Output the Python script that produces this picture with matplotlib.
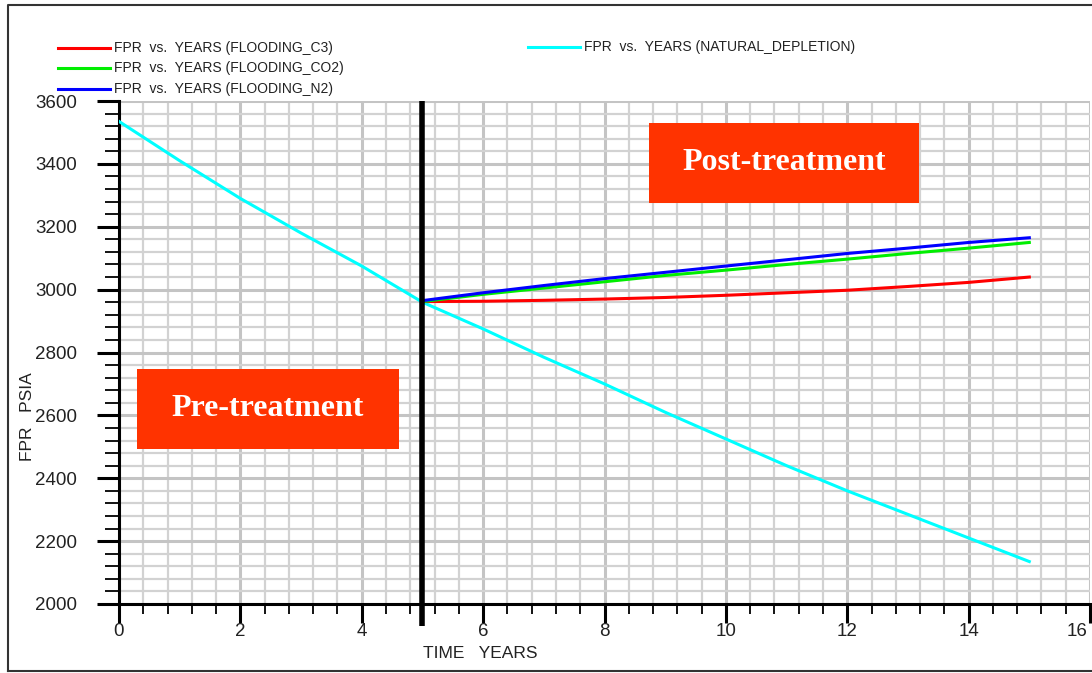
import matplotlib
matplotlib.use("Agg")
import matplotlib.pyplot as plt
from matplotlib.lines import Line2D
from matplotlib.patches import Rectangle
from matplotlib.ticker import MultipleLocator, FuncFormatter

# Field pressure (FPR, psia) versus time (years)
years_natural = [0, 1, 2, 3, 4, 5, 6, 7, 8, 9, 10, 11, 12, 13, 14, 15]
fpr_natural = [3535, 3410, 3290, 3180, 3075, 2960, 2875, 2785, 2700, 2610,
               2525, 2440, 2360, 2285, 2210, 2135]

years_flood = [5, 6, 7, 8, 9, 10, 11, 12, 13, 14, 15]
fpr_c3 = [2962, 2963, 2966, 2970, 2975, 2982, 2990, 2998, 3010, 3023, 3040]
fpr_co2 = [2962, 2985, 3005, 3025, 3045, 3062, 3080, 3097, 3115, 3132, 3150]
fpr_n2 = [2965, 2990, 3013, 3035, 3055, 3075, 3095, 3115, 3132, 3150, 3165]

treatment_start = 5
x_max = 16

legend_labels = [
    "FPR  vs.  YEARS (FLOODING_C3)",
    "FPR  vs.  YEARS (FLOODING_CO2)",
    "FPR  vs.  YEARS (FLOODING_N2)",
    "FPR  vs.  YEARS (NATURAL_DEPLETION)",
]
colors = ["#ff0000", "#00ee00", "#0000ff", "#00ffff"]

W, H = 1092, 673
fig = plt.figure(figsize=(W / 100, H / 100), dpi=100)
plt.rcParams["font.family"] = ["Liberation Sans", "DejaVu Sans"]

ax = fig.add_axes([119 / W, 1 - 604 / H, (1090 - 119) / W, (604 - 101) / H])
ax.set_xlim(0, x_max)
ax.set_ylim(2000, 3600)

# grid
ax.xaxis.set_major_locator(MultipleLocator(2))
ax.xaxis.set_minor_locator(MultipleLocator(0.4))
ax.yaxis.set_major_locator(MultipleLocator(200))
ax.yaxis.set_minor_locator(MultipleLocator(40))
ax.grid(which="minor", color="#d2d2d2", linewidth=1.6, zorder=0)
ax.grid(which="major", color="#c4c4c4", linewidth=2.2, zorder=0)
ax.set_axisbelow(True)

# the right-most x label is drawn separately so it stays inside the figure
ax.xaxis.set_major_formatter(
    FuncFormatter(lambda v, p: "" if v >= x_max else f"{v:g}"))

for s in ("top", "right"):
    ax.spines[s].set_visible(False)
for s in ("left", "bottom"):
    ax.spines[s].set_linewidth(2.2)
    ax.spines[s].set_color("black")

ax.tick_params(which="major", direction="out", length=14, width=2.2,
               labelsize=13.5, colors="black", labelcolor="#222222", pad=0)
ax.tick_params(which="minor", direction="out", length=8, width=1.3,
               colors="black")
ax.tick_params(axis="y", which="major", length=16, pad=14)
ax.tick_params(axis="y", which="minor", length=10)
ax.tick_params(axis="x", which="minor", length=7)

ax.annotate(f"{x_max:g}", xy=(x_max, 0), xycoords=("data", "axes fraction"),
            xytext=(-2, -14), textcoords="offset points", ha="right",
            va="top", fontsize=13.5, color="#222222", annotation_clip=False)

# curves
ax.plot(years_natural, fpr_natural, color=colors[3], lw=2.2, zorder=3)
ax.plot(years_flood, fpr_c3, color=colors[0], lw=2.2, zorder=4)
ax.plot(years_flood, fpr_co2, color=colors[1], lw=2.2, zorder=4)
ax.plot(years_flood, fpr_n2, color=colors[2], lw=2.2, zorder=5)

# treatment start marker
ax.plot([treatment_start, treatment_start], [1930, 3600], color="black",
        lw=4, clip_on=False, zorder=6, solid_capstyle="butt")

# phase labels
box_color = "#ff3300"
for (x0, y0, x1, y1, txt) in [(649, 123, 919, 203, "Post-treatment"),
                              (137, 369, 399, 449, "Pre-treatment")]:
    fig.patches.append(Rectangle((x0 / W, 1 - y1 / H), (x1 - x0) / W,
                                 (y1 - y0) / H, transform=fig.transFigure,
                                 facecolor=box_color, edgecolor="none",
                                 zorder=10))
    fig.text((x0 + x1) / 2 / W, 1 - (y0 + y1) / 2 / H, txt,
             family=["Liberation Serif", "DejaVu Serif"], weight="bold",
             fontsize=23, color="white", ha="center", va="center", zorder=11)

# axis titles
fig.text(28 / W, 1 - 417 / H, "FPR   PSIA", rotation=90, ha="center",
         va="center", fontsize=12.5, color="#222222")
fig.text(480 / W, 1 - 654 / H, "TIME   YEARS", ha="center", va="center",
         fontsize=12.5, color="#222222")

# legend
legend_pos = [(58, 48), (58, 68), (58, 89), (528, 47)]
for (lx, ly), c, lab in zip(legend_pos, colors, legend_labels):
    fig.add_artist(Line2D([lx / W, (lx + 52) / W], [1 - ly / H, 1 - ly / H],
                          color=c, lw=2.2, transform=fig.transFigure))
    fig.text((lx + 56) / W, 1 - ly / H, lab, ha="left", va="center",
             fontsize=10, color="#222222")

# outer frame
fig.add_artist(Line2D([8 / W, 8 / W, 1.0], [1 - 671 / H, 1 - 5 / H, 1 - 5 / H],
                      color="#333333", lw=1.5, transform=fig.transFigure))
fig.add_artist(Line2D([8 / W, 1.0], [1 - 671 / H, 1 - 671 / H],
                      color="#333333", lw=1.5, transform=fig.transFigure))

fig.savefig("out.png", dpi=100, facecolor="white")
